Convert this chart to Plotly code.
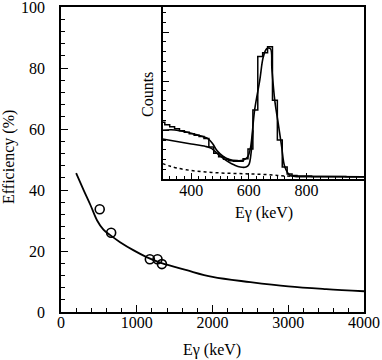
import numpy as np
import plotly.graph_objects as go

# main panel: efficiency vs gamma energy
meas_energy = [511, 662, 1173, 1274, 1332]
meas_eff = [33.7, 26.0, 17.3, 17.3, 15.7]

fit_energy = [200, 300, 390, 475, 560, 650, 780, 960, 1130, 1310, 1660, 2000, 2500, 3000, 3500, 4000]
fit_eff = [45.5, 39.9, 35.0, 30.1, 27.0, 25.2, 22.9, 20.2, 18.0, 16.2, 13.7, 11.5, 9.8, 8.4, 7.5, 6.8]

# inset: measured spectrum (histogram) and fit components
hist_start = 291
hist_width = 17
hist_counts = [116, 111, 107, 103, 99, 96, 93, 90, 87, 83, 66, 53, 46, 41, 38, 37, 37, 42,
               62, 141, 250, 258, 270, 161, 80, 25, 11,
               8, 7, 7, 7, 6, 6, 6, 6, 6, 6, 6, 5, 5, 5, 5]

total_e = [300, 330, 360, 400, 440, 460, 475, 490, 510, 530, 560, 580, 595, 605, 620, 638,
           650, 662, 675, 680, 690, 702, 714, 725, 743, 760, 850, 1000]
total_c = [100, 101, 99, 94, 87, 82, 72, 58, 47, 41, 38, 39, 45, 62, 141, 202,
           249, 266, 266, 225, 161, 114, 66, 25, 8, 6, 5.5, 5]

compton_e = [300, 350, 400, 450, 470, 490, 510, 530, 550, 570, 590, 600, 608, 614]
compton_c = [82, 77, 72, 67, 63, 53, 43, 35, 29, 25, 25, 30, 55, 100]

bkg_e = [300, 325, 350, 400, 450, 500, 550, 600, 650, 700, 745]
bkg_c = [32, 27, 23, 18, 15, 13, 12, 11, 10, 8, 6]

edges = hist_start + hist_width * np.arange(len(hist_counts) + 1)
step_y = list(hist_counts) + [hist_counts[-1]]

FONT = "Liberation Serif"
W, H = 382, 360
L, R, T, B = 61, 18, 7, 48

fig = go.Figure()

fig.add_trace(go.Scatter(
    x=fit_energy, y=fit_eff, mode="lines", line=dict(color="black", width=1.8, shape="spline"),
))
fig.add_trace(go.Scatter(
    x=meas_energy, y=meas_eff, mode="markers",
    marker=dict(symbol="circle-open", size=9, color="black", line=dict(width=1.6)),
))

fig.add_trace(go.Scatter(
    x=edges, y=step_y, mode="lines", line=dict(color="black", width=1.5, shape="hv"),
    xaxis="x2", yaxis="y2",
))
fig.add_trace(go.Scatter(
    x=total_e, y=total_c, mode="lines", line=dict(color="black", width=1.6, shape="spline"),
    xaxis="x2", yaxis="y2",
))
fig.add_trace(go.Scatter(
    x=compton_e, y=compton_c, mode="lines", line=dict(color="black", width=1.6, shape="spline"),
    xaxis="x2", yaxis="y2",
))
fig.add_trace(go.Scatter(
    x=bkg_e, y=bkg_c, mode="lines", line=dict(color="black", width=1.5, dash="dot", shape="spline"),
    xaxis="x2", yaxis="y2",
))

axis_common = dict(
    showgrid=False, zeroline=False, showline=True, linecolor="black", linewidth=1.6,
    mirror=True, ticks="inside", ticklen=7, tickwidth=1.2, tickcolor="black",
    tickfont=dict(family=FONT, size=16, color="black"), automargin=False,
    ticklabeloverflow="allow",
)

fig.update_layout(
    width=W, height=H,
    margin=dict(l=L, r=R, t=T, b=B),
    paper_bgcolor="white", plot_bgcolor="white",
    showlegend=False,
    font=dict(family=FONT, size=16, color="black"),
    xaxis=dict(
        **axis_common, range=[0, 4000], dtick=1000, ticklabelstandoff=-5,
        minor=dict(dtick=200, ticks="inside", ticklen=4, tickcolor="black"),
    ),
    yaxis=dict(
        **axis_common, range=[0, 100], dtick=20, ticklabelstandoff=11,
        minor=dict(dtick=4, ticks="inside", ticklen=4, tickcolor="black"),
    ),
    xaxis2=dict(
        **axis_common, domain=[0.335, 1.0], anchor="y2", range=[300, 1000],
        tickvals=[400, 600, 800], ticklabelstandoff=-4,
        minor=dict(dtick=25, ticks="inside", ticklen=4, tickcolor="black"),
    ),
    yaxis2=dict(
        **axis_common, domain=[0.435, 1.0], anchor="x2", range=[0, 351],
        dtick=100, showticklabels=False,
        minor=dict(dtick=20, ticks="inside", ticklen=4, tickcolor="black"),
    ),
)

# axis titles placed as paper annotations (pixel positions converted to paper coords)
pw, ph = W - L - R, H - T - B


def px(x):
    return (x - L) / pw


def py(y):
    return (H - B - y) / ph


titles = [
    ("Eγ (keV)", 212, 350, 0),
    ("Efficiency (%)", 9, 157, -90),
    ("Eγ (keV)", 264, 213, 0),
    ("Counts", 148, 95, -90),
]
for text, x, y, ang in titles:
    fig.add_annotation(
        text=text, x=px(x), y=py(y), xref="paper", yref="paper",
        xanchor="center", yanchor="middle", textangle=ang, showarrow=False,
        font=dict(family=FONT, size=16, color="black"),
    )

# page has a default 8px body margin; drop it so the figure sits at the window corner
fig.write_html(
    "out.html",
    config={"displayModeBar": False},
    post_script="document.body.style.margin='0';",
)
